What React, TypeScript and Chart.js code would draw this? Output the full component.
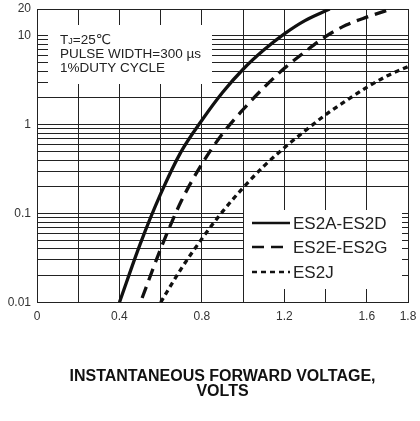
import React, { useEffect, useRef } from 'react';
import { Chart, registerables } from 'chart.js';

Chart.register(...registerables);

const seriesLabels = ['ES2A-ES2D', 'ES2E-ES2G', 'ES2J'];

const solidX = [0.4, 0.5, 0.6, 0.7, 0.8, 0.9, 1.0, 1.1, 1.2, 1.3, 1.42];
const solidY = [0.01, 0.045, 0.166, 0.5, 1.12, 2.3, 4.2, 6.9, 10.5, 14.8, 20];

const dashedX = [0.51, 0.6, 0.7, 0.8, 0.9, 1.0, 1.1, 1.2, 1.3, 1.4, 1.5, 1.6, 1.72];
const dashedY = [0.0112, 0.04, 0.138, 0.36, 0.79, 1.48, 2.6, 4.3, 6.6, 9.8, 13.2, 16.2, 20];

const dottedX = [0.6, 0.7, 0.8, 0.9, 1.0, 1.1, 1.2, 1.3, 1.4, 1.5, 1.6, 1.7, 1.8];
const dottedY = [0.01, 0.024, 0.052, 0.105, 0.195, 0.34, 0.55, 0.85, 1.29, 1.86, 2.63, 3.55, 4.5];

const xTickLabels = ['0', '0.4', '0.8', '1.2', '1.6', '1.8'];
const yTickLabels = ['0.01', '0.1', '1', '10', '20'];
const yDecades = [0.01, 0.1, 1, 10];
const yMin = 0.01;
const yMax = 20;
const xMin = 0;
const xMax = 1.8;
const xStep = 0.2;

const noteLines = ['PULSE WIDTH=300 µs', '1%DUTY CYCLE'];
const xTitle = ['INSTANTANEOUS FORWARD VOLTAGE,', 'VOLTS'];

const FONT = '"Liberation Sans", Arial, "DejaVu Sans", sans-serif';

const toPoints = (xs: number[], ys: number[]) => xs.map((x, i) => ({ x, y: ys[i] }));

const yGridValues: number[] = [];
yDecades.forEach((d) => {
  for (let m = 1; m <= 9; m++) {
    const v = Number((d * m).toPrecision(6));
    if (v <= yMax) yGridValues.push(v);
  }
});
if (!yGridValues.includes(yMax)) yGridValues.push(yMax);

const overlayPlugin = {
  id: 'overlay',
  beforeDatasetsDraw(chart: any) {
    const { ctx, chartArea: a } = chart;
    ctx.save();
    ctx.fillStyle = '#ffffff';
    ctx.fillRect(a.left + 11, a.top + 16, 164, 59);
    ctx.fillRect(a.right - 164, a.top + 201, 158, 79);
    ctx.restore();
  },
  afterDatasetsDraw(chart: any) {
    const { ctx, chartArea: a } = chart;
    ctx.save();
    ctx.fillStyle = '#222';
    ctx.textBaseline = 'middle';
    ctx.textAlign = 'left';
    const big = `13.5px ${FONT}`;
    const small = `9px ${FONT}`;
    let x = a.left + 23;
    const y0 = a.top + 31;
    ctx.font = big;
    ctx.fillText('T', x, y0);
    x += ctx.measureText('T').width;
    ctx.font = small;
    ctx.fillText('J', x, y0 + 2);
    x += ctx.measureText('J').width;
    ctx.font = big;
    ctx.fillText('=25℃', x, y0);
    noteLines.forEach((t, i) => ctx.fillText(t, a.left + 23, y0 + 14 * (i + 1)));

    const rows = [214, 238, 263];
    chart.data.datasets.forEach((ds: any, i: number) => {
      const y = a.top + rows[i];
      ctx.beginPath();
      ctx.setLineDash(ds.borderDash || []);
      ctx.lineWidth = 2.6;
      ctx.strokeStyle = ds.borderColor;
      ctx.moveTo(a.right - 156, y);
      ctx.lineTo(a.right - 118, y);
      ctx.stroke();
      ctx.setLineDash([]);
      ctx.font = `17px ${FONT}`;
      ctx.fillStyle = '#222';
      ctx.fillText(ds.label, a.right - 115, y + 1);
    });
    ctx.restore();
  },
};

export default function App() {
  const ref = useRef<HTMLCanvasElement | null>(null);

  useEffect(() => {
    if (!ref.current) return;
    const common = {
      borderColor: '#111',
      borderWidth: 3.3,
      pointRadius: 0,
      cubicInterpolationMode: 'monotone',
      fill: false,
    };
    const chart = new Chart(ref.current, {
      type: 'line',
      data: {
        datasets: [
          { ...common, label: seriesLabels[0], data: toPoints(solidX, solidY) },
          { ...common, label: seriesLabels[1], data: toPoints(dashedX, dashedY), borderDash: [12, 7] },
          { ...common, label: seriesLabels[2], data: toPoints(dottedX, dottedY), borderDash: [5, 4] },
        ],
      },
      options: {
        animation: false,
        responsive: false,
        maintainAspectRatio: false,
        layout: { padding: { top: 9, right: 12, bottom: 22.4, left: 0 } },
        plugins: {
          legend: { display: false },
          tooltip: { enabled: false },
        },
        scales: {
          x: {
            type: 'linear',
            min: xMin,
            max: xMax,
            afterFit: (scale: any) => {
              scale.paddingLeft = 0;
              scale.paddingRight = 0;
            },
            ticks: {
              stepSize: xStep,
              autoSkip: false,
              maxRotation: 0,
              padding: 7,
              color: '#333',
              font: { family: FONT, size: 12 },
              callback: (v: any) => {
                const l = xTickLabels.find((t) => Math.abs(Number(t) - Number(v)) < 1e-6);
                return l ?? '';
              },
            },
            grid: { color: '#222', lineWidth: 1, drawTicks: false },
            border: { color: '#222', width: 1 },
            title: {
              display: true,
              text: xTitle,
              color: '#111',
              font: { family: FONT, size: 16, weight: 'bold', lineHeight: 0.9 },
              padding: { top: 39, bottom: 0 },
            },
          },
          y: {
            type: 'logarithmic',
            min: yMin,
            max: yMax,
            afterBuildTicks: (scale: any) => {
              scale.ticks = yGridValues.map((v) => ({ value: v }));
            },
            afterFit: (scale: any) => {
              scale.width = 37;
              scale.paddingTop = 0;
              scale.paddingBottom = 0;
            },
            ticks: {
              autoSkip: false,
              padding: 6,
              color: '#333',
              font: { family: FONT, size: 12 },
              callback: (v: any) => {
                const l = yTickLabels.find((t) => Math.abs(Number(t) - Number(v)) < 1e-9);
                return l ?? '';
              },
            },
            grid: { color: '#222', lineWidth: 1, drawTicks: false },
            border: { color: '#222', width: 1 },
          },
        },
      } as any,
      plugins: [overlayPlugin],
    });
    return () => chart.destroy();
  }, []);

  return (
    <canvas
      ref={ref}
      width={420}
      height={421}
      style={{ position: 'absolute', left: 0, top: 0, display: 'block', background: '#fff' }}
    />
  );
}
